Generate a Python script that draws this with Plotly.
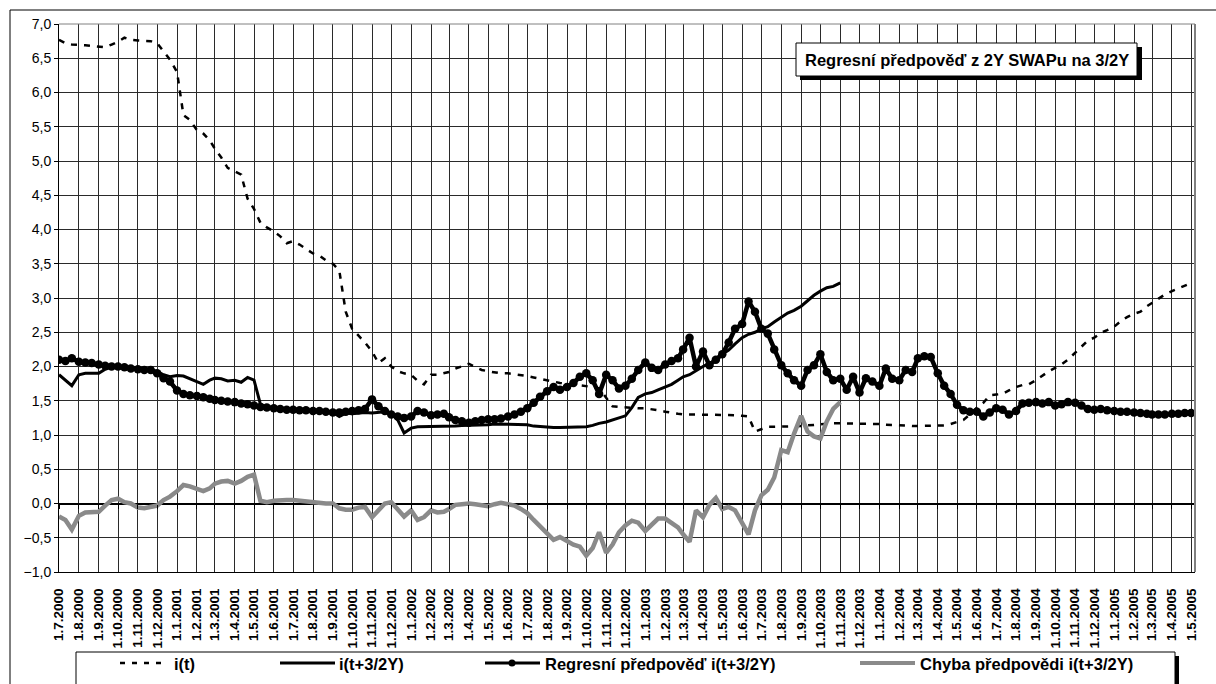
import plotly.graph_objects as go

# ---------------- data ----------------
# sample grid: 1st, 11th and 21st day of each month, Jul 2000 .. Apr 2005, plus 1.5.2005
months = [(y, m) for y in range(2000, 2006) for m in range(1, 13)
          if (y, m) >= (2000, 7) and (y, m) <= (2005, 4)]
dates = [f"{y}-{m:02d}-{d:02d}" for (y, m) in months for d in (1, 11, 21)] + ["2005-05-01"]

# i(t)  (dashed)
i_t = [6.77, 6.72, 6.70, 6.70, 6.69, 6.68, 6.67, 6.66, 6.70, 6.74, 6.80, 6.77,
       6.76, 6.75, 6.75, 6.72, 6.60, 6.48,
       6.30, 5.67, 5.60, 5.45, 5.40, 5.30, 5.18, 5.05, 4.90, 4.85, 4.80, 4.45,
       4.30, 4.10, 4.03, 3.97, 3.90, 3.80, 3.83, 3.78, 3.72, 3.65, 3.62, 3.55,
       3.50, 3.40, 2.80, 2.55, 2.45, 2.35, 2.22, 2.05, 2.12, 2.00, 1.93, 1.90,
       1.88, 1.79, 1.74, 1.88, 1.88, 1.90, 1.92, 1.97, 2.00, 2.04, 1.99, 1.95,
       1.93, 1.91, 1.90, 1.90, 1.89, 1.88, 1.86, 1.84, 1.82, 1.79, 1.77, 1.76,
       1.75, 1.74, 1.73, 1.72, 1.70, 1.68, 1.55, 1.42, 1.41, 1.40, 1.39, 1.39,
       1.39, 1.38, 1.36, 1.34, 1.32, 1.31, 1.30, 1.30, 1.29, 1.29, 1.29, 1.30,
       1.30, 1.29, 1.29, 1.28, 1.27, 1.05, 1.08, 1.12, 1.12, 1.12, 1.12, 1.13,
       1.13, 1.14, 1.15, 1.16, 1.17, 1.17, 1.17, 1.17, 1.17, 1.17, 1.17, 1.16,
       1.16, 1.15, 1.15, 1.14, 1.14, 1.13, 1.13, 1.13, 1.13, 1.13, 1.14, 1.16,
       1.19, 1.22, 1.30, 1.40, 1.47, 1.58, 1.59, 1.60, 1.65, 1.70, 1.73, 1.74,
       1.80, 1.87, 1.93, 1.98, 2.03, 2.10, 2.20, 2.30, 2.38, 2.42, 2.49, 2.53,
       2.58, 2.66, 2.72, 2.77, 2.80, 2.88, 2.93, 2.98, 3.05, 3.10, 3.14, 3.18,
       3.22]

# i(t+3/2Y)  (solid black, ends Nov 2003)
i_fut = [1.88, 1.80, 1.72, 1.88, 1.90, 1.90, 1.90, 1.96, 1.99, 2.00, 2.00, 1.98,
         1.97, 1.96, 1.95, 1.93, 1.88, 1.85,
         1.87, 1.86, 1.82, 1.78, 1.74, 1.80, 1.83, 1.82, 1.79, 1.80, 1.77, 1.84,
         1.80, 1.45, 1.41, 1.39, 1.38, 1.37, 1.37, 1.36, 1.36, 1.35, 1.35, 1.34,
         1.33, 1.27, 1.32, 1.31, 1.32, 1.33, 1.32, 1.33, 1.34, 1.32, 1.22, 1.03,
         1.10, 1.12, 1.12, 1.12, 1.13, 1.13, 1.13, 1.13, 1.14, 1.14, 1.14, 1.15,
         1.15, 1.16, 1.16, 1.16, 1.16, 1.15, 1.15, 1.13, 1.12, 1.11, 1.11, 1.11,
         1.11, 1.11, 1.11, 1.12, 1.14, 1.17, 1.19, 1.22, 1.25, 1.28, 1.40, 1.55,
         1.60, 1.62, 1.66, 1.70, 1.74, 1.80, 1.85, 1.88, 1.94, 2.00, 2.05, 2.09,
         2.18, 2.24, 2.33, 2.42, 2.47, 2.50, 2.55, 2.58, 2.65, 2.72, 2.78, 2.82,
         2.88, 2.96, 3.04, 3.10, 3.15, 3.17, 3.22]

# Regresní předpověď i(t+3/2Y)  (black line with dots)
reg_pred = [2.10, 2.08, 2.12, 2.07, 2.06, 2.05, 2.03, 2.01, 2.00, 2.00, 1.99, 1.97,
            1.96, 1.95, 1.95, 1.90, 1.83, 1.78,
            1.65, 1.60, 1.58, 1.57, 1.55, 1.53, 1.51, 1.50, 1.49, 1.48, 1.46, 1.45,
            1.43, 1.41, 1.40, 1.39, 1.38, 1.37, 1.37, 1.36, 1.36, 1.35, 1.35, 1.34,
            1.33, 1.33, 1.34, 1.35, 1.36, 1.38, 1.52, 1.42, 1.35, 1.30, 1.27, 1.25,
            1.27, 1.35, 1.33, 1.29, 1.30, 1.31, 1.26, 1.22, 1.20, 1.18, 1.20, 1.22,
            1.23, 1.23, 1.24, 1.27, 1.30, 1.34, 1.39, 1.47, 1.56, 1.64, 1.70, 1.66,
            1.70, 1.76, 1.85, 1.90, 1.80, 1.60, 1.88, 1.80, 1.68, 1.72, 1.82, 1.95,
            2.06, 1.98, 1.95, 2.03, 2.08, 2.12, 2.25, 2.42, 2.00, 2.22, 2.02, 2.10,
            2.18, 2.35, 2.55, 2.62, 2.95, 2.80, 2.55, 2.48, 2.25, 2.02, 1.90, 1.80,
            1.72, 1.95, 2.02, 2.18, 1.92, 1.80, 1.82, 1.66, 1.85, 1.62, 1.83, 1.78,
            1.72, 1.97, 1.82, 1.80, 1.95, 1.92, 2.12, 2.15, 2.14, 1.90, 1.72, 1.60,
            1.44, 1.36, 1.34, 1.34, 1.27, 1.33, 1.39, 1.37, 1.30, 1.35, 1.46, 1.47,
            1.48, 1.46, 1.48, 1.43, 1.45, 1.48, 1.47, 1.43, 1.38, 1.37, 1.38, 1.36,
            1.35, 1.34, 1.34, 1.33, 1.32, 1.31, 1.30, 1.30, 1.30, 1.31, 1.31, 1.32,
            1.32]

# Chyba předpovědi i(t+3/2Y)  (grey, ends Nov 2003)
err_pred = [-0.19, -0.24, -0.38, -0.18, -0.13, -0.12, -0.12, -0.03, 0.05, 0.07, 0.02, 0.00,
            -0.06, -0.07, -0.05, -0.03, 0.05, 0.10,
            0.18, 0.27, 0.25, 0.22, 0.18, 0.22, 0.29, 0.32, 0.33, 0.29, 0.33, 0.39,
            0.42, 0.04, 0.02, 0.04, 0.05, 0.05, 0.05, 0.04, 0.02, 0.01, 0.01, 0.00,
            0.00, -0.07, -0.09, -0.09, -0.06, -0.05, -0.20, -0.10, 0.00, 0.02, -0.09, -0.19,
            -0.10, -0.24, -0.20, -0.10, -0.13, -0.12, -0.08, -0.02, -0.01, 0.00, -0.01, -0.03,
            -0.04, -0.01, 0.01, -0.01, -0.03, -0.08, -0.14, -0.24, -0.34, -0.45, -0.53, -0.49,
            -0.55, -0.60, -0.63, -0.76, -0.65, -0.42, -0.72, -0.60, -0.42, -0.32, -0.25, -0.28,
            -0.40, -0.30, -0.22, -0.22, -0.28, -0.35, -0.45, -0.56, -0.10, -0.20, -0.02, 0.08,
            -0.08, -0.05, -0.10, -0.28, -0.45, -0.10, 0.12, 0.20, 0.38, 0.78, 0.75, 1.02,
            1.28, 1.05, 0.98, 0.95, 1.20, 1.38, 1.48]

legend_names = ["i(t)", "i(t+3/2Y)", "Regresní předpověď i(t+3/2Y)", "Chyba předpovědi i(t+3/2Y)"]
title_text = "Regresní předpověď z 2Y SWAPu na 3/2Y"
x_range = ["2000-07-01", "2005-05-07"]
y_range = [-1.0, 7.0]

# ---------------- layout helpers ----------------
W, H = 1216, 684
L, R, T, B = 59, 21, 24, 112
PW, PH = W - L - R, H - T - B
FONT = "Liberation Sans, Arial, sans-serif"
GREY = "#8a8a8a"
GRID = "#2a2a2a"


def px(x):
    return (x - L) / PW


def py(y):
    return (H - B - y) / PH


fig = go.Figure()
fig.add_trace(go.Scatter(x=dates, y=i_t, mode="lines", name=legend_names[0],
                         line=dict(color="black", width=2.5, dash="6px,7px")))
fig.add_trace(go.Scatter(x=dates[:len(i_fut)], y=i_fut, mode="lines", name=legend_names[1],
                         line=dict(color="black", width=3)))
fig.add_trace(go.Scatter(x=dates, y=reg_pred, mode="lines+markers", name=legend_names[2],
                         line=dict(color="black", width=4.5),
                         marker=dict(color="black", size=8.5)))
fig.add_trace(go.Scatter(x=dates[:len(err_pred)], y=err_pred, mode="lines", name=legend_names[3],
                         line=dict(color=GREY, width=4.5), xaxis="x2"))

shapes = [
    # outer chart frame
    dict(type="rect", xref="paper", yref="paper", x0=px(10), x1=px(1260), y0=py(10), y1=py(740),
         line=dict(color="black", width=1), fillcolor="rgba(0,0,0,0)"),
    # grey plot-area border (top, right)
    dict(type="line", xref="paper", yref="paper", x0=0, x1=1, y0=1, y1=1,
         line=dict(color="#808080", width=1)),
    dict(type="line", xref="paper", yref="paper", x0=1, x1=1, y0=0, y1=1,
         line=dict(color="#808080", width=2)),
    # title box with shadow
    dict(type="rect", xref="paper", yref="paper", x0=px(800), x1=px(1142), y0=py(80), y1=py(47),
         line=dict(width=0), fillcolor="black"),
    dict(type="rect", xref="paper", yref="paper", x0=px(796), x1=px(1137), y0=py(76), y1=py(43),
         line=dict(color="black", width=1), fillcolor="white"),
    # legend box with shadow
    dict(type="rect", xref="paper", yref="paper", x0=px(80), x1=px(1179), y0=py(710), y1=py(656),
         line=dict(width=0), fillcolor="black"),
    dict(type="rect", xref="paper", yref="paper", x0=px(76), x1=px(1175), y0=py(706), y1=py(652),
         line=dict(color="black", width=1), fillcolor="white"),
    # legend samples
    dict(type="line", xref="paper", yref="paper", x0=px(120), x1=px(168), y0=py(663), y1=py(663),
         line=dict(color="black", width=2.5, dash="5px,7px")),
    dict(type="line", xref="paper", yref="paper", x0=px(280), x1=px(335), y0=py(663), y1=py(663),
         line=dict(color="black", width=3)),
    dict(type="line", xref="paper", yref="paper", x0=px(485), x1=px(540), y0=py(663), y1=py(663),
         line=dict(color="black", width=3)),
    dict(type="circle", xref="paper", yref="paper", x0=px(508.5), x1=px(515.5), y0=py(666.5),
         y1=py(659.5), line=dict(width=0), fillcolor="black"),
    dict(type="line", xref="paper", yref="paper", x0=px(860), x1=px(915), y0=py(663), y1=py(663),
         line=dict(color=GREY, width=4)),
]

annotations = [
    dict(xref="paper", yref="paper", x=px(966.5), y=py(60), text=title_text, showarrow=False,
         xanchor="center", yanchor="middle",
         font=dict(family=FONT, size=16.5, color="black", weight="bold")),
]
for xt, name in zip([172, 337, 543, 918], legend_names):
    annotations.append(dict(xref="paper", yref="paper", x=px(xt), y=py(664), text=name,
                            showarrow=False, xanchor="left", yanchor="middle",
                            font=dict(family=FONT, size=16.5, color="black", weight="bold")))

fig.update_layout(
    width=W, height=H,
    margin=dict(l=L, r=R, t=T, b=B, pad=0),
    paper_bgcolor="white", plot_bgcolor="white",
    separators=", ",
    showlegend=False,
    font=dict(family=FONT, color="black"),
    xaxis=dict(type="date", range=x_range, tick0="2000-07-01", dtick="M1",
               tickformat="%-d.%-m.%Y", tickangle=-90, ticks="", ticklabelstandoff=10,
               tickfont=dict(family=FONT, size=13.5, color="black", weight="bold"),
               showgrid=True, gridcolor=GRID, gridwidth=1,
               showline=True, linecolor="black", linewidth=1, zeroline=False),
    xaxis2=dict(type="date", range=x_range, overlaying="x", anchor="free", position=0.125,
                side="bottom", tick0="2000-07-01", dtick="M1", ticks="outside", ticklen=4,
                tickwidth=1, tickcolor="black", showticklabels=False, showgrid=False,
                showline=False, zeroline=False),
    yaxis=dict(range=y_range, dtick=0.5, tick0=0, tickformat=".1f",
               ticks="outside", ticklen=4, tickcolor="black",
               tickfont=dict(family=FONT, size=14, color="black"),
               showgrid=True, gridcolor=GRID, gridwidth=1,
               showline=True, linecolor="black", linewidth=1,
               zeroline=True, zerolinecolor="black", zerolinewidth=2),
    shapes=shapes,
    annotations=annotations,
)

fig.write_html("out.html", config={"displayModeBar": False},
               post_script="document.body.style.margin='0';")
